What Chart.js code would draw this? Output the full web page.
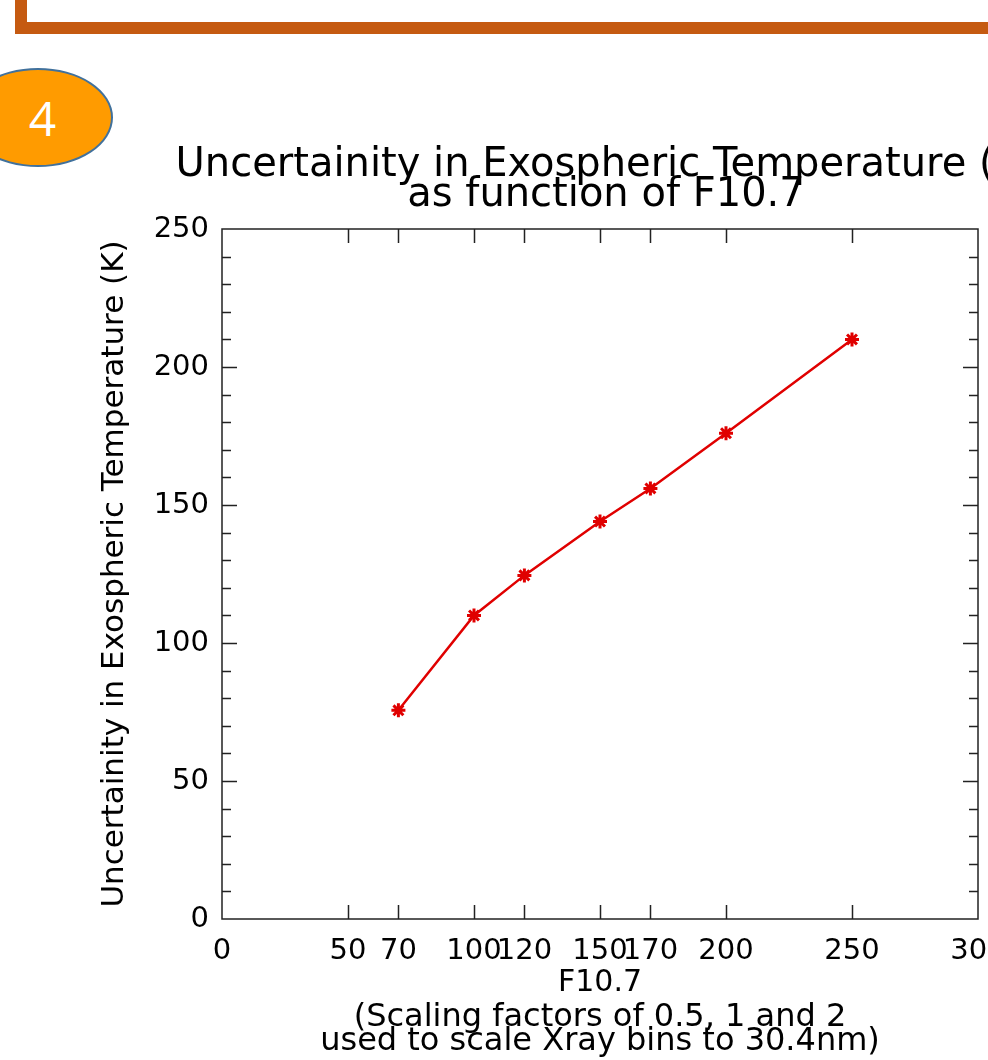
<!DOCTYPE html>
<html><head><meta charset="utf-8">
<script src="https://cdn.jsdelivr.net/npm/chart.js@4"></script>
<style>
html,body{margin:0;padding:0;background:#fff;overflow:hidden;width:988px;height:1060px;}
#c{position:absolute;left:0;top:0;}
#hbar{position:absolute;left:15px;top:22px;width:973px;height:12px;background:#C55A11;}
#vbar{position:absolute;left:15px;top:0;width:12px;height:34px;background:#C55A11;}
#badge{position:absolute;left:-37px;top:68px;width:146px;height:95px;border:2px solid #41719C;border-radius:50%;background:#FF9B00;}
#num{position:absolute;left:20px;top:89px;width:45px;text-align:center;font:48px "Open Sans";color:#fff;line-height:58px;}
</style></head>
<body>
<canvas id="c" width="1212" height="1060"></canvas>
<div id="vbar"></div><div id="hbar"></div>
<div id="badge"></div><div id="num">4</div>
<script>
const xTickValues = [0, 50, 70, 100, 120, 150, 170, 200, 250, 300];
const f107 = [70, 100, 120, 150, 170, 200, 250];
const uncertainty = [75.6, 110, 124.5, 144, 156, 176, 210];
const yMajorStep = 50;
const yMinorStep = 10;
const titleLines = ['Uncertainity in Exospheric Temperature (K)', 'as function of F10.7'];
const xTitle = 'F10.7';
const xSubLines = ['(Scaling factors of 0.5, 1 and 2', 'used to scale Xray bins to 30.4nm)'];
const yTitle = 'Uncertainity in Exospheric Temperature (K)';

const FONT = "'DejaVu Sans', sans-serif";

const boxPlugin = {
  id: 'idlBox',
  beforeDatasetsDraw(chart) {
    const {ctx, chartArea: a, scales: {x, y}} = chart;
    ctx.save();
    ctx.strokeStyle = '#222';
    ctx.lineWidth = 1.5;
    ctx.beginPath();
    xTickValues.forEach(v => {
      if (v <= x.min || v >= x.max) return;
      const px = Math.round(x.getPixelForValue(v)) + 0.5;
      ctx.moveTo(px, a.bottom); ctx.lineTo(px, a.bottom - 14);
      ctx.moveTo(px, a.top); ctx.lineTo(px, a.top + 14);
    });
    for (let v = y.min + yMinorStep; v < y.max; v += yMinorStep) {
      const len = (v % yMajorStep === 0) ? 15 : 9;
      const py = Math.round(y.getPixelForValue(v)) + 0.5;
      ctx.moveTo(a.left, py); ctx.lineTo(a.left + len, py);
      ctx.moveTo(a.right, py); ctx.lineTo(a.right - len, py);
    }
    ctx.stroke();
    ctx.strokeRect(a.left, a.top, a.right - a.left, a.bottom - a.top);
    ctx.restore();
  }
};

new Chart(document.getElementById('c'), {
  type: 'scatter',
  data: {
    datasets: [{
      data: f107.map((v, i) => ({x: v, y: uncertainty[i]})),
      showLine: true,
      borderColor: '#e00000',
      backgroundColor: '#e00000',
      borderWidth: 2.5,
      pointStyle: 'star',
      pointRadius: 7,
      pointBorderWidth: 3,
      pointBorderColor: '#e00000',
      tension: 0
    }]
  },
  options: {
    responsive: false,
    animation: false,
    devicePixelRatio: 1,
    layout: {padding: {left: 0, right: 0, top: 0, bottom: 0}},
    plugins: {
      legend: {display: false},
      tooltip: {enabled: false},
      title: {
        display: true, text: titleLines, color: '#000',
        font: {family: FONT, size: 40, weight: 'normal', lineHeight: 0.75},
        padding: {top: 151, bottom: 18}
      },
      subtitle: {
        display: true, position: 'bottom', fullSize: false, text: xSubLines, color: '#000',
        font: {family: FONT, size: 32, weight: 'normal', lineHeight: 0.75},
        padding: {top: 0, bottom: 6}
      }
    },
    scales: {
      x: {
        type: 'linear', min: 0, max: 300,
        grid: {display: false, drawTicks: false},
        border: {display: false},
        afterBuildTicks(s) { s.ticks = xTickValues.map(v => ({value: v})); },
        afterFit(s) { s.height = 87; s.paddingLeft = 0; s.paddingRight = 234; },
        ticks: {autoSkip: false, maxRotation: 0, padding: 15, color: '#000',
          font: {family: FONT, size: 29}, callback: v => String(v)},
        title: {display: true, text: xTitle, color: '#000',
          font: {family: FONT, size: 30, lineHeight: 1}, padding: {top: 0, bottom: 8}}
      },
      y: {
        min: 0, max: 250,
        grid: {display: false, drawTicks: false},
        border: {display: false},
        afterFit(s) { s.width = 222; },
        ticks: {stepSize: yMajorStep, padding: 13, color: '#000', font: {family: FONT, size: 29}},
        title: {display: true, text: yTitle, color: '#000',
          font: {family: FONT, size: 31, lineHeight: 1}, padding: {top: 99, bottom: 0}}
      }
    }
  },
  plugins: [boxPlugin]
});
</script>
</body></html>
